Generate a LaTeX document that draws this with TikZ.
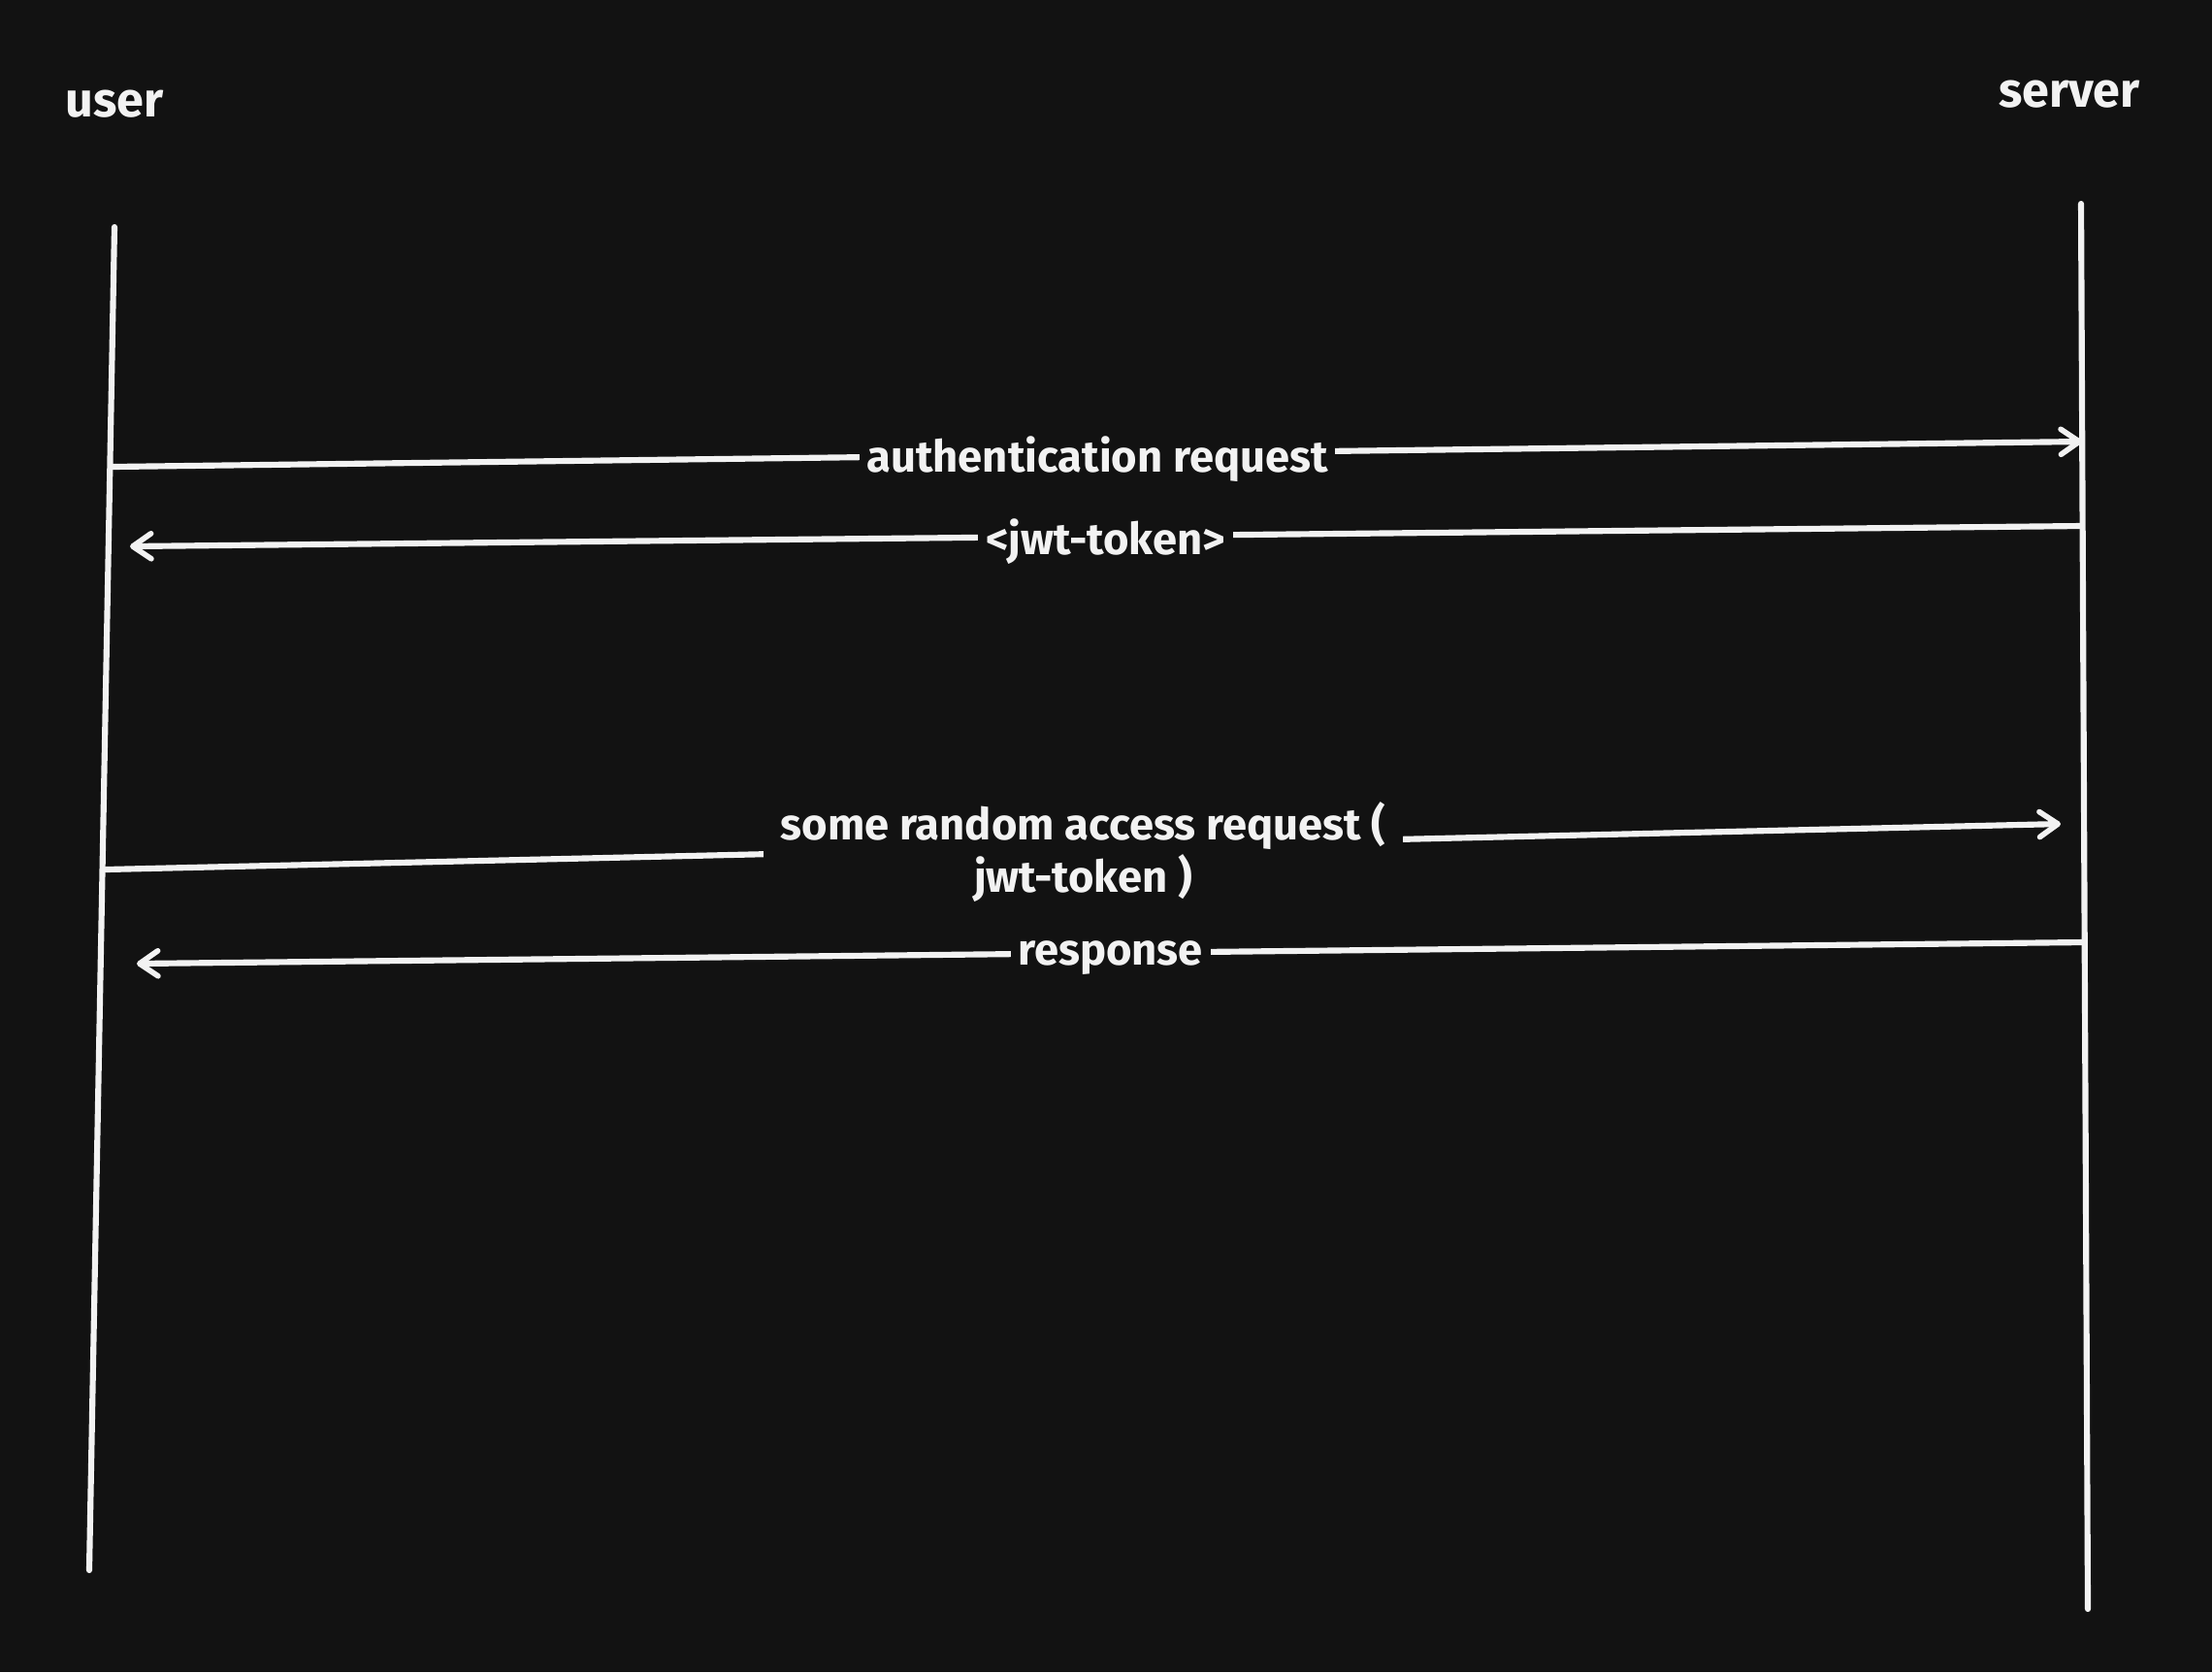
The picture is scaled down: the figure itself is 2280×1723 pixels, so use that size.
\documentclass[tikz,border=0pt]{standalone}
\usepackage{fontspec}
\setmainfont{Fira Sans}
\usetikzlibrary{arrows.meta}
\definecolor{bg}{HTML}{121212}
\definecolor{ink}{HTML}{F2F2F2}
\tikzset{
  wire/.style={draw=ink, line width=1.75pt, line cap=round},
  msg/.style={wire, -{Straight Barb[length=5.4pt, width=7.4pt, line width=1.6pt, round]}},
  lbl/.style={fill=bg, text=ink, font=\bfseries\fontsize{12.9}{15.5}\selectfont, inner xsep=2.2pt, inner ysep=1pt, align=center, yshift=-1.5pt},
  actor/.style={text=ink, font=\bfseries\fontsize{14.3}{17}\selectfont}
}
\begin{document}
\begin{tikzpicture}[x=0.01cm, y=-0.01cm]
  \fill[bg] (0,0) rectangle (2280,1723);
  \useasboundingbox (0,0) rectangle (2280,1723);
  % actors
  \node[actor] (user) at (118,107) {user};
  \node[actor] (server) at (2133,97) {server};
  % lifelines
  \coordinate (ut) at (118,234);
  \coordinate (ub) at (92,1618);
  \coordinate (st) at (2145,210);
  \coordinate (sb) at (2152,1658);
  \draw[wire] (ut) -- (ub);
  \draw[wire] (st) -- (sb);
  % message end points
  \coordinate (a1) at (116,481);
  \coordinate (b1) at (2146,455);
  \coordinate (a2) at (2145,542);
  \coordinate (b2) at (134,563);
  \coordinate (a3) at (109,896);
  \coordinate (b3) at (2124,849);
  \coordinate (a4) at (2148,971);
  \coordinate (b4) at (141,993);
  % messages
  \draw[msg] (a1) -- node[lbl] (m1) {authentication request} (b1);
  \draw[msg] (a2) -- node[lbl] (m2) {<jwt-token>} (b2);
  \draw[msg] (a3) -- node[lbl, inner xsep=5pt] (m3) {some random access request (\\ jwt-token )} (b3);
  \draw[msg] (a4) -- node[lbl] (m4) {response} (b4);
\end{tikzpicture}
\end{document}
